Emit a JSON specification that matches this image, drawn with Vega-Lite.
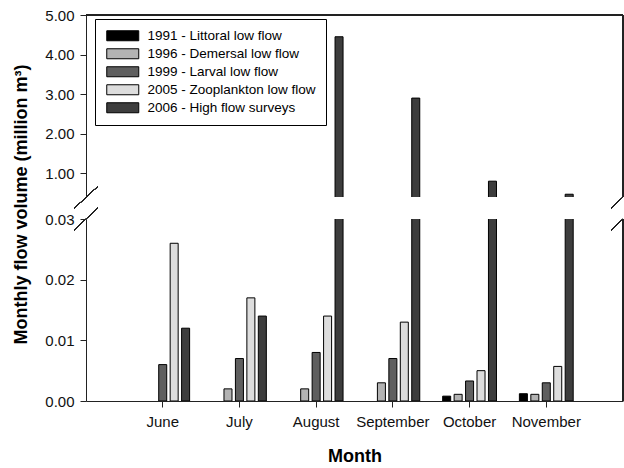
{
  "$schema": "https://vega.github.io/schema/vega-lite/v6.json",
  "padding": {"left": 11, "top": 8, "right": 0, "bottom": 0},
  "background": "white",
  "bounds": "flush",
  "data": {"values": [
    {"month": "June", "series": "1999 - Larval low flow", "value": 0.006},
    {"month": "June", "series": "2005 - Zooplankton low flow", "value": 0.026},
    {"month": "June", "series": "2006 - High flow surveys", "value": 0.012},
    {"month": "July", "series": "1996 - Demersal low flow", "value": 0.002},
    {"month": "July", "series": "1999 - Larval low flow", "value": 0.007},
    {"month": "July", "series": "2005 - Zooplankton low flow", "value": 0.017},
    {"month": "July", "series": "2006 - High flow surveys", "value": 0.014},
    {"month": "August", "series": "1996 - Demersal low flow", "value": 0.002},
    {"month": "August", "series": "1999 - Larval low flow", "value": 0.008},
    {"month": "August", "series": "2005 - Zooplankton low flow", "value": 0.014},
    {"month": "August", "series": "2006 - High flow surveys", "value": 4.45},
    {"month": "September", "series": "1996 - Demersal low flow", "value": 0.003},
    {"month": "September", "series": "1999 - Larval low flow", "value": 0.007},
    {"month": "September", "series": "2005 - Zooplankton low flow", "value": 0.013},
    {"month": "September", "series": "2006 - High flow surveys", "value": 2.9},
    {"month": "October", "series": "1991 - Littoral low flow", "value": 0.0008},
    {"month": "October", "series": "1996 - Demersal low flow", "value": 0.0011},
    {"month": "October", "series": "1999 - Larval low flow", "value": 0.0033},
    {"month": "October", "series": "2005 - Zooplankton low flow", "value": 0.005},
    {"month": "October", "series": "2006 - High flow surveys", "value": 0.8},
    {"month": "November", "series": "1991 - Littoral low flow", "value": 0.0012},
    {"month": "November", "series": "1996 - Demersal low flow", "value": 0.0011},
    {"month": "November", "series": "1999 - Larval low flow", "value": 0.003},
    {"month": "November", "series": "2005 - Zooplankton low flow", "value": 0.0057},
    {"month": "November", "series": "2006 - High flow surveys", "value": 0.47}
  ]},
  "spacing": 22,
  "resolve": {"legend": {"color": "independent"}},
  "vconcat": [
    {
      "width": 537,
      "height": 182,
      "resolve": {"scale": {"x": "independent"}},
      "layer": [
        {
          "mark": {"type": "bar", "clip": true, "stroke": "black", "strokeWidth": 1},
          "encoding": {
            "x": {"field": "month", "type": "nominal", "sort": null,
                  "scale": {"domain": ["June", "July", "August", "September", "October", "November"], "paddingInner": 0, "paddingOuter": 0.5},
                  "axis": null},
            "xOffset": {"field": "series", "type": "nominal",
                  "scale": {"domain": ["1991 - Littoral low flow", "1996 - Demersal low flow", "1999 - Larval low flow", "2005 - Zooplankton low flow", "2006 - High flow surveys"], "paddingInner": 0.3, "paddingOuter": 1.77}},
            "y": {"field": "value", "type": "quantitative",
                  "scale": {"domain": [0.4, 5], "nice": false, "zero": false},
                  "axis": {"values": [1, 2, 3, 4, 5], "format": ".2f", "title": null, "grid": false}},
            "color": {"field": "series", "type": "nominal",
                  "scale": {"domain": ["1991 - Littoral low flow", "1996 - Demersal low flow", "1999 - Larval low flow", "2005 - Zooplankton low flow", "2006 - High flow surveys"],
                            "range": ["#000000", "#b3b3b3", "#5f5f5f", "#dddddd", "#3d3d3d"]},
                  "legend": {"title": null, "orient": "none", "legendX": 9, "legendY": 4,
                             "symbolType": "M-1,-1H5.4V1H-1Z", "symbolSize": 100,
                             "symbolStrokeColor": "black", "symbolStrokeWidth": 1,
                             "labelFontSize": 13.5, "labelFont": "Liberation Sans", "labelColor": "black",
                             "strokeColor": "black", "fillColor": "white", "padding": 10,
                             "rowPadding": 3, "labelOffset": 29, "labelLimit": 300}}
          }
        },
        {
          "layer": [
            {
              "mark": {"type": "rule", "color": "#222", "strokeWidth": 1},
              "encoding": {"y": {"datum": 5}}
            },
            {
              "mark": {"type": "rule", "color": "#222", "strokeWidth": 1},
              "encoding": {"x": {"datum": 7, "type": "quantitative", "scale": {"domain": [0, 7], "nice": false, "zero": false}, "axis": null}}
            },
            {
              "mark": {"type": "rule", "color": "#222", "strokeWidth": 1},
              "encoding": {"x": {"datum": -0.15, "type": "quantitative", "axis": null}, "x2": {"datum": 0.15}, "y": {"datum": 0.12}, "y2": {"datum": 0.66}}
            },
            {
              "mark": {"type": "rule", "color": "#222", "strokeWidth": 1},
              "encoding": {"x": {"datum": 6.85, "type": "quantitative", "axis": null}, "x2": {"datum": 7.0}, "y": {"datum": 0.12}, "y2": {"datum": 0.4}}
            }
          ]
        }
      ]
    },
    {
      "width": 537,
      "height": 182,
      "resolve": {"scale": {"x": "independent"}},
      "layer": [
        {
          "mark": {"type": "bar", "clip": true, "stroke": "black", "strokeWidth": 1},
          "encoding": {
            "x": {"field": "month", "type": "nominal", "sort": null,
                  "scale": {"domain": ["June", "July", "August", "September", "October", "November"], "paddingInner": 0, "paddingOuter": 0.5},
                  "axis": {"title": "Month", "labelAngle": 0, "domain": true, "ticks": true, "labelPadding": 7, "titlePadding": 18}},
            "xOffset": {"field": "series", "type": "nominal",
                  "scale": {"domain": ["1991 - Littoral low flow", "1996 - Demersal low flow", "1999 - Larval low flow", "2005 - Zooplankton low flow", "2006 - High flow surveys"], "paddingInner": 0.3, "paddingOuter": 1.77}},
            "y": {"field": "value", "type": "quantitative",
                  "scale": {"domain": [0, 0.03], "nice": false, "zero": false},
                  "axis": {"values": [0, 0.01, 0.02, 0.03], "format": ".2f", "title": "Monthly flow volume (million m³)", "grid": false, "titleY": -15, "titleX": -56}},
            "color": {"field": "series", "type": "nominal", "legend": null}
          }
        },
        {
          "layer": [
            {
              "mark": {"type": "rule", "color": "#222", "strokeWidth": 1},
              "encoding": {"x": {"datum": 7, "type": "quantitative", "scale": {"domain": [0, 7], "nice": false, "zero": false}, "axis": null}}
            },
            {
              "mark": {"type": "rule", "color": "#222", "strokeWidth": 1},
              "encoding": {"x": {"datum": -0.15, "type": "quantitative", "axis": null}, "x2": {"datum": 0.15}, "y": {"datum": 0.0282}, "y2": {"datum": 0.0318}}
            },
            {
              "mark": {"type": "rule", "color": "#222", "strokeWidth": 1},
              "encoding": {"x": {"datum": 6.85, "type": "quantitative", "axis": null}, "x2": {"datum": 7.0}, "y": {"datum": 0.0282}, "y2": {"datum": 0.03}}
            }
          ]
        }
      ]
    }
  ],
  "config": {
    "view": {"stroke": null},
    "font": "Liberation Sans",
    "axis": {
      "labelFont": "Liberation Sans", "labelFontSize": 15, "labelColor": "#111",
      "titleFont": "Liberation Sans", "titleFontSize": 18, "titleFontWeight": "bold", "titleColor": "black",
      "domainColor": "#222", "tickColor": "#222", "tickSize": 6, "labelPadding": 6, "grid": false
    }
  }
}
